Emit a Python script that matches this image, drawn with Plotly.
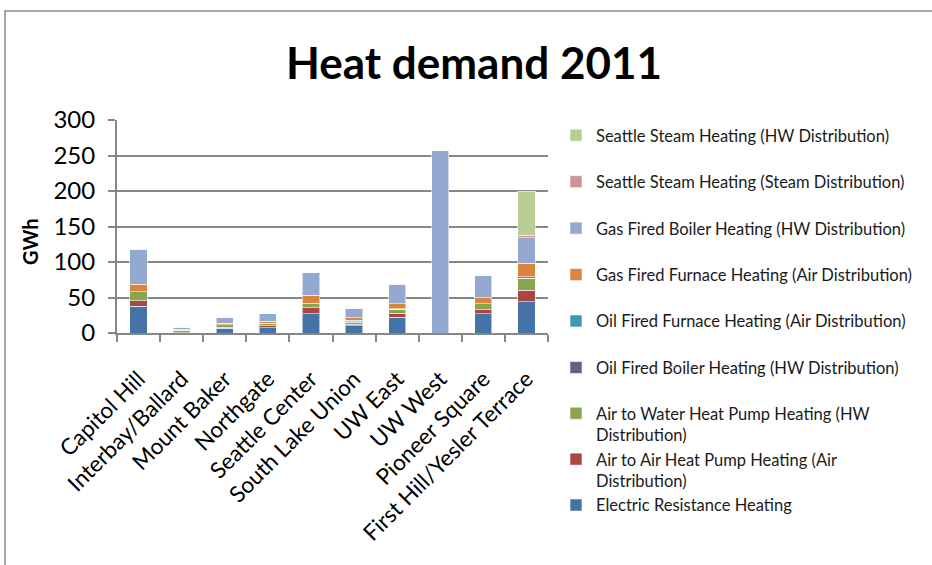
import plotly.graph_objects as go

# Districts on the category axis
districts = [
    "Capitol Hill", "Interbay/Ballard", "Mount Baker", "Northgate",
    "Seattle Center", "South Lake Union", "UW East", "UW West",
    "Pioneer Square", "First Hill/Yesler Terrace",
]

# Heat demand per heating technology, GWh (stacked bottom to top)
electric_resistance = [38, 0.3, 7, 7.5, 27, 10, 22, 0, 27, 44]
air_to_air_hp = [7.5, 0.3, 1, 2.5, 8.5, 2.5, 6, 0, 6, 16]
air_to_water_hp = [12.5, 3.5, 3.5, 3.5, 6, 3, 5.5, 0, 8, 17]
oil_boiler = [0, 0, 0, 0, 0, 0.5, 0, 0, 0, 0]
oil_furnace = [0.3, 0.2, 0.3, 0.3, 0.5, 2, 0.5, 0, 0.5, 2.5]
gas_furnace = [10.5, 0.7, 2, 3, 11, 3.5, 7.5, 0, 8, 19]
gas_boiler = [49.5, 3, 8.5, 10.5, 32, 13.5, 27, 257, 32, 35.5]
steam_steam = [0, 0, 0, 0, 0, 0, 0, 0, 0, 3.5]
steam_hw = [0, 0, 0, 0, 0, 0, 0, 0, 0, 62.5]

y_ticks = [0, 50, 100, 150, 200, 250, 300]

series = [
    ("Electric Resistance Heating", electric_resistance, "#4572A7", "legend2"),
    ("Air to Air Heat Pump Heating (Air<br>Distribution)", air_to_air_hp, "#AA4643", "legend2"),
    ("Air to Water Heat Pump Heating (HW<br>Distribution)", air_to_water_hp, "#89A54E", "legend2"),
    ("Oil Fired Boiler Heating (HW Distribution)", oil_boiler, "#71588F", "legend"),
    ("Oil Fired Furnace Heating (Air Distribution)", oil_furnace, "#4198AF", "legend"),
    ("Gas Fired Furnace Heating (Air Distribution)", gas_furnace, "#DB843D", "legend"),
    ("Gas Fired Boiler Heating (HW Distribution)", gas_boiler, "#93A9CF", "legend"),
    ("Seattle Steam Heating (Steam Distribution)", steam_steam, "#D19392", "legend"),
    ("Seattle Steam Heating (HW Distribution)", steam_hw, "#B9CD96", "legend"),
]

FONT = "Lato"
GRID = "#878787"

fig = go.Figure()
for i, (name, vals, color, leg) in enumerate(series):
    fig.add_trace(go.Bar(
        x=districts, y=vals, name=name,
        marker=dict(color=color, line=dict(color="rgba(255,255,255,0.55)", width=1)),
        legend=leg, legendgroup=f"g{i}", legendrank=100 - i,
    ))

L, R, T, B = 117, 384, 120, 232
PW, PH = 932 - L - R, 565 - T - B


def px_x(px):
    return (px - L) / PW


def px_y(py):
    return (565 - B - py) / PH


legend_common = dict(
    xref="paper", yref="paper", xanchor="left", yanchor="top",
    font=dict(family=FONT, size=16.5, color="#1a1a1a"),
    traceorder="grouped", valign="top", maxheight=600,
    bgcolor="rgba(0,0,0,0)", itemclick=False, itemdoubleclick=False,
)

fig.update_layout(
    width=932, height=565, autosize=False,
    margin=dict(l=L, r=R, t=T, b=B, pad=0),
    paper_bgcolor="white", plot_bgcolor="white",
    barmode="stack", bargap=0.6,
    font=dict(family=FONT, color="#000000"),
    title=dict(
        text="<b>Heat demand 2011</b>",
        font=dict(family=FONT, size=44, color="#000000"),
        x=px_x(474), xref="paper", xanchor="center",
        y=1 - 64 / 565, yref="container", yanchor="middle",
    ),
    xaxis=dict(
        type="category", tickangle=-45,
        tickfont=dict(family=FONT, size=22.5, color="#000000"),
        showline=True, linecolor=GRID, linewidth=2,
        ticks="outside", tickson="boundaries", ticklen=7, tickwidth=2, tickcolor=GRID,
        showgrid=False, ticklabelstandoff=22,
    ),
    yaxis=dict(
        range=[0, 300], tickvals=y_ticks,
        tickfont=dict(family=FONT, size=24, color="#000000"),
        showline=True, linecolor=GRID, linewidth=2,
        ticks="outside", ticklen=7, tickwidth=2, tickcolor=GRID,
        showgrid=True, gridcolor=GRID, gridwidth=2,
        zeroline=False, ticklabelstandoff=8,
    ),
    legend=dict(x=px_x(556), y=px_y(118), tracegroupgap=22, **legend_common),
    legend2=dict(x=px_x(556), y=px_y(396), tracegroupgap=0, **legend_common),
    annotations=[dict(
        text="<b>GWh</b>", textangle=-90,
        x=px_x(30), y=px_y(242), xref="paper", yref="paper",
        xanchor="center", yanchor="middle", showarrow=False,
        font=dict(family=FONT, size=20, color="#000000"),
    )],
    shapes=[dict(
        type="rect", xref="paper", yref="paper",
        x0=px_x(5), x1=px_x(940), y0=px_y(575), y1=px_y(11),
        line=dict(color="#8c8c8c", width=1.5), fillcolor="rgba(0,0,0,0)",
        layer="below",
    )],
)

fig.write_html("out.html")
